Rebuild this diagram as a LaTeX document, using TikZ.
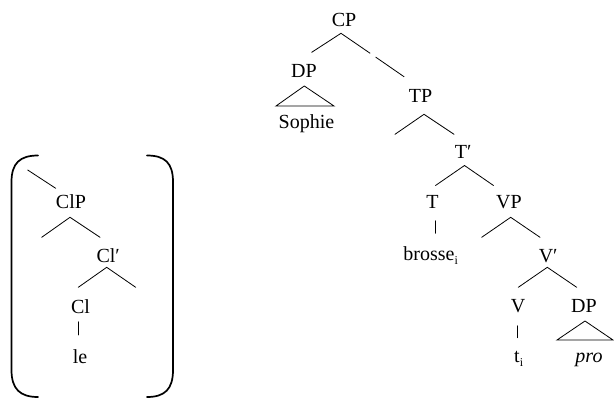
\documentclass[tikz,border=0pt]{standalone}
\usepackage{fontspec}
\setmainfont{Liberation Serif}
\newcommand{\lsub}[1]{\raisebox{-0.22em}{\fontsize{12}{12}\selectfont #1}}
\begin{document}
\begin{tikzpicture}[x=1pt,y=-1pt,
  lab/.style={anchor=base,inner sep=0pt,font=\fontsize{20}{24}\selectfont},
  branch/.style={line width=0.8pt,line cap=round},
  paren/.style={line width=1.7pt,line cap=round}]
\useasboundingbox (0,0) rectangle (614,399);

% ---------- main clause tree ----------
\node[lab] (CP)     at (344,26)    {CP};
\node[lab] (DPa)    at (304,77)    {DP};
\node[lab] (Sophie) at (306.5,128) {Sophie};
\node[lab] (TP)     at (420.5,102) {TP};
\node[lab] (Tbar)   at (461,158)   {T\rlap{′}};
\node[lab] (T)      at (432.5,208) {T};
\node[lab] (VP)     at (509,208)   {VP};
\node[lab] (brosse) at (429,260)   {brosse\rlap{\lsub{i}}};
\node[lab] (Vbar)   at (546,262)   {V\rlap{′}};
\node[lab] (V)      at (518,312)   {V};
\node[lab] (DPb)    at (584,312)   {DP};
\node[lab] (trace)  at (517,362)   {t\rlap{\lsub{i}}};
\node[lab,font=\fontsize{20}{24}\selectfont\itshape] (pro) at (589,362) {pro};

% branch points and branch ends
\coordinate (CP-a) at (341,33.3);
\coordinate (CP-l) at (311.7,52.3);
\coordinate (CP-r1) at (370,53.2);
\coordinate (CP-r2) at (375.8,57.2);
\coordinate (CP-r3) at (404,76.7);
\coordinate (TP-a) at (424,114.3);
\coordinate (TP-l) at (395,134.3);
\coordinate (TP-r) at (454,134.3);
\coordinate (Tbar-a) at (464.5,165.5);
\coordinate (Tbar-l) at (435.5,185.5);
\coordinate (Tbar-r) at (493.5,185.5);
\coordinate (VP-a) at (510.7,217.3);
\coordinate (VP-l) at (481.7,237.3);
\coordinate (VP-r) at (540,237.3);
\coordinate (Vbar-a) at (547.3,267.3);
\coordinate (Vbar-l) at (518.3,287.3);
\coordinate (Vbar-r) at (576.7,287.3);
\coordinate (T-s) at (435.7,220.7);
\coordinate (T-e) at (435.7,233.3);
\coordinate (V-s) at (517.3,325.7);
\coordinate (V-e) at (517.3,337.7);
\coordinate (DPa-a) at (304.3,86);
\coordinate (DPa-l) at (276,106);
\coordinate (DPa-r) at (334,106);
\coordinate (DPb-a) at (585,321);
\coordinate (DPb-l) at (557,340);
\coordinate (DPb-r) at (613,340);

\draw[branch] (CP-l) -- (CP-a) -- (CP-r1);
\draw[branch] (CP-r2) -- (CP-r3);
\draw[branch] (TP-l) -- (TP-a) -- (TP-r);
\draw[branch] (Tbar-l) -- (Tbar-a) -- (Tbar-r);
\draw[branch] (VP-l) -- (VP-a) -- (VP-r);
\draw[branch] (Vbar-l) -- (Vbar-a) -- (Vbar-r);
\draw[branch] (T-s) -- (T-e);
\draw[branch] (V-s) -- (V-e);
\draw[branch,line join=miter] (DPa-a) -- (DPa-l) -- (DPa-r) -- cycle;
\draw[branch,line join=miter] (DPb-a) -- (DPb-l) -- (DPb-r) -- cycle;

% ---------- bracketed clitic structure ----------
\node[lab] (ClP)   at (71,208)   {ClP};
\node[lab] (Clbar) at (106,262)  {Cl\rlap{′}};
\node[lab] (Cl)    at (80.5,313) {Cl};
\node[lab] (le)    at (80,363)   {le};

\coordinate (top-s) at (27.7,170);
\coordinate (top-e) at (55.7,188.3);
\coordinate (ClP-a) at (70,217.3);
\coordinate (ClP-l) at (41.7,237.3);
\coordinate (ClP-r) at (100,237.3);
\coordinate (Clbar-a) at (106.7,267.3);
\coordinate (Clbar-l) at (78.3,287.3);
\coordinate (Clbar-r) at (135.7,287.3);
\coordinate (Cl-s) at (78.3,321.7);
\coordinate (Cl-e) at (78.3,335);

\draw[branch] (top-s) -- (top-e);
\draw[branch] (ClP-l) -- (ClP-a) -- (ClP-r);
\draw[branch] (Clbar-l) -- (Clbar-a) -- (Clbar-r);
\draw[branch] (Cl-s) -- (Cl-e);

% large round brackets
\coordinate (lb-t) at (38,155.5);
\coordinate (lb-b) at (38,397);
\coordinate (rb-t) at (147,155.5);
\coordinate (rb-b) at (147,397);
\draw[paren] (lb-t) .. controls (20,155.5) and (11.5,163) .. (11.5,182)
  -- (11.5,370) .. controls (11.5,389) and (20,397) .. (lb-b);
\draw[paren] (rb-t) .. controls (165,155.5) and (173,163) .. (173,182)
  -- (173,370) .. controls (173,389) and (165,397) .. (rb-b);
\end{tikzpicture}
\end{document}
